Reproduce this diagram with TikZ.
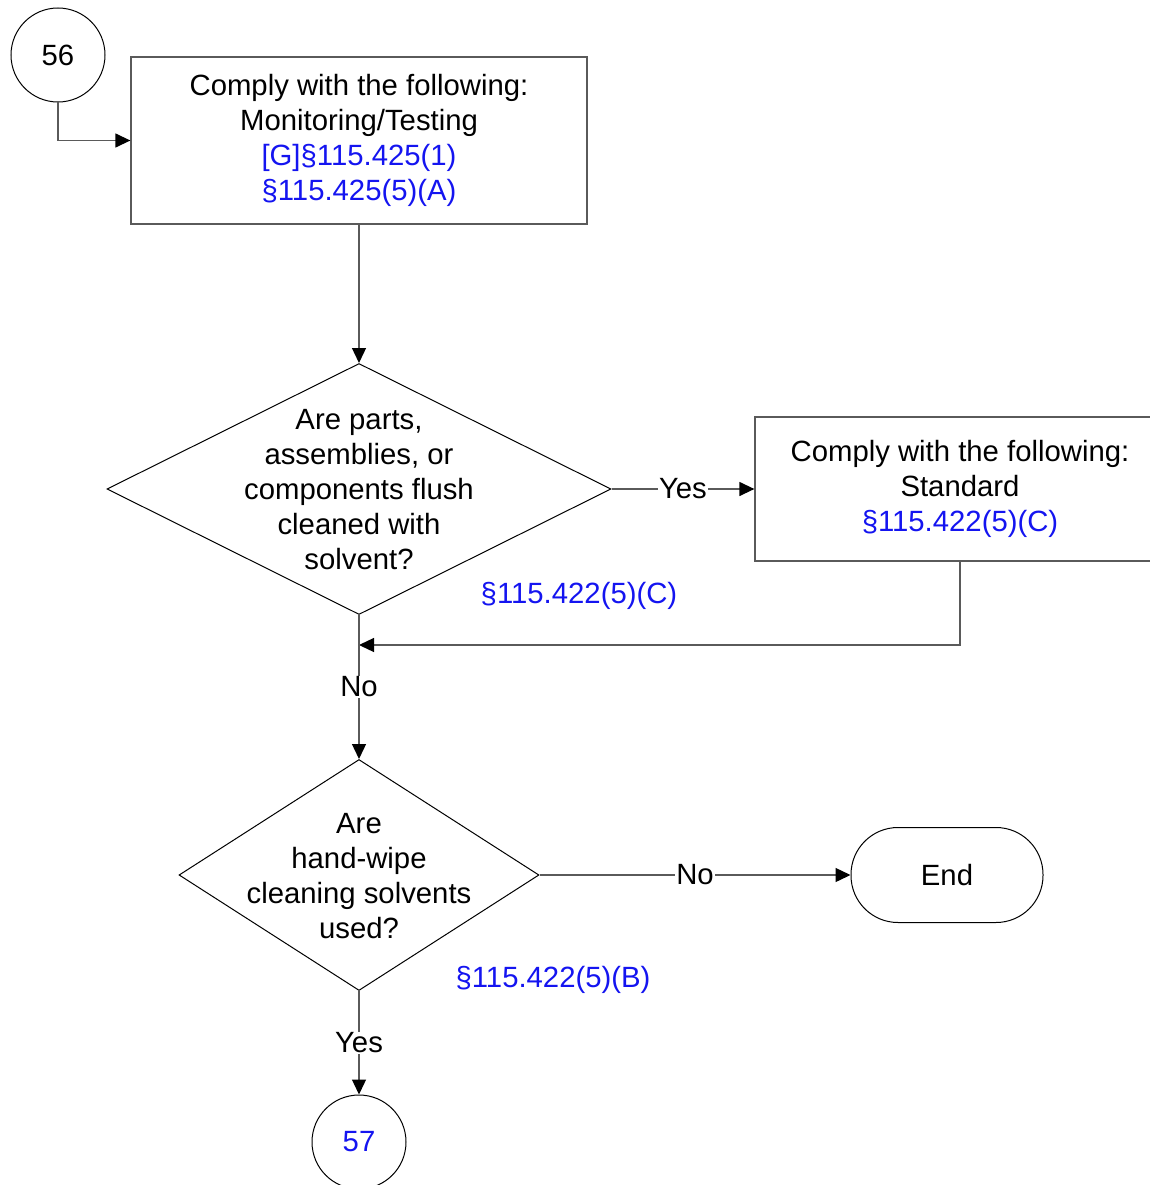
\documentclass[tikz,border=0pt]{standalone}
\usepackage{fontspec}
\setmainfont{Liberation Sans}
\usetikzlibrary{shapes.geometric,arrows.meta,positioning}
\definecolor{refblue}{RGB}{20,20,240}
\definecolor{linegray}{RGB}{90,90,90}
\begin{document}
\begin{tikzpicture}[x=1pt,y=-1pt,
  every node/.style={font=\fontsize{29.3}{35}\selectfont},
  circ/.style={draw=black,line width=1pt,circle,minimum size=94pt,inner sep=0pt},
  boxnode/.style={draw=linegray,line width=1.3pt,rectangle,inner sep=0pt,align=center},
  dia/.style={draw=black,line width=1pt,diamond,inner sep=0pt},
  txt/.style={align=center,inner sep=0pt},
  term/.style={draw=black,line width=1pt,rectangle,rounded corners=47pt,minimum width=192pt,minimum height=95pt,inner sep=0pt},
  arr/.style={draw=linegray,line width=1.3pt,-{Triangle[length=15pt,width=14pt,fill=black,color=black]}},
  lbl/.style={fill=white,inner sep=1pt},
  ref/.style={text=refblue}]
\useasboundingbox (0,0) rectangle (1149,1185);

\node[circ] (c56) at (58,55) {56};
\node[boxnode,minimum width=456pt,minimum height=167pt] (b1) at (359,140.5)
  {Comply with the following:\\Monitoring/Testing\\\textcolor{refblue}{[G]§115.425(1)}\\\textcolor{refblue}{§115.425(5)(A)}};

\node[dia,minimum width=504pt,minimum height=251pt] (d1) at (359,489) {};
\node[txt] (d1t) at (359,490) {Are parts,\\assemblies, or\\components flush\\cleaned with\\solvent?};

\node[boxnode,minimum width=410pt,minimum height=144pt] (b2) at (960,489)
  {Comply with the following:\\Standard\\\textcolor{refblue}{§115.422(5)(C)}};

\node[txt,ref] (r1) at (579,596) {§115.422(5)(C)};

\node[dia,minimum width=360pt,minimum height=231pt] (d2) at (359,875) {};
\node[txt] (d2t) at (359,876) {Are\\hand-wipe\\cleaning solvents\\used?};

\node[term] (end) at (947,875) {End};
\node[txt,ref] (r2) at (553,980) {§115.422(5)(B)};

\node[circ,text=refblue] (c57) at (359,1142) {57};

\coordinate (j1) at (359,645);

\draw[arr] (c56.south) |- (b1.west);
\draw[arr] (b1.south) -- (d1.north);
\draw[arr] (d1.east) -- node[lbl] {Yes} (b2.west);
\draw[arr] (b2.south) |- (j1);
\draw[arr] (d1.south) -- node[lbl] {No} (d2.north);
\draw[arr] (d2.east) -- node[lbl] {No} (end.west);
\draw[arr] (d2.south) -- node[lbl] {Yes} (c57.north);
\end{tikzpicture}
\end{document}
